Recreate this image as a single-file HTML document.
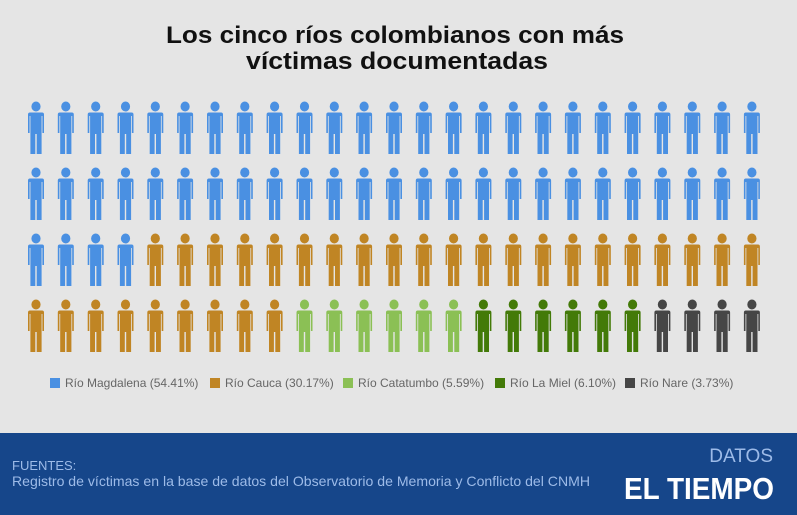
<!DOCTYPE html>
<html><head><meta charset="utf-8"><style>
body{margin:0;width:797px;height:515px;background:#e5e5e5;overflow:hidden;font-family:"Liberation Sans",sans-serif}
</style></head><body>
<svg width="797" height="515" xmlns="http://www.w3.org/2000/svg" style="position:absolute;left:0;top:0">
<defs>
<g id="p">
<ellipse cx="0" cy="5.5" rx="4.6" ry="5"/>
<path d="M-8,13.5 Q-8,11.5 -6,11.5 L6,11.5 Q8,11.5 8,13.5 L8,32 L6.4,32 L6.4,15 L5.6,15 L5.6,53 L0.7,53 L0.7,33 L-0.7,33 L-0.7,53 L-5.6,53 L-5.6,15 L-6.4,15 L-6.4,32 L-8,32 Z"/>
</g>
</defs>
<text x="395" y="43" text-anchor="middle" font-size="24" font-weight="bold" fill="#111" textLength="458" lengthAdjust="spacingAndGlyphs">Los cinco ríos colombianos con más</text>
<text x="397" y="69" text-anchor="middle" font-size="24" font-weight="bold" fill="#111" textLength="302" lengthAdjust="spacingAndGlyphs">víctimas documentadas</text>
<g id="icons"></g>
<g font-size="12" fill="#666">
<rect x="50" y="378" width="10" height="10" fill="#4a90e2"/><text x="65" y="387">Río Magdalena (54.41%)</text>
<rect x="210" y="378" width="10" height="10" fill="#c08524"/><text x="225" y="387">Río Cauca (30.17%)</text>
<rect x="343" y="378" width="10" height="10" fill="#8bc055"/><text x="358" y="387">Río Catatumbo (5.59%)</text>
<rect x="495" y="378" width="10" height="10" fill="#437a08"/><text x="510" y="387">Río La Miel (6.10%)</text>
<rect x="625" y="378" width="10" height="10" fill="#464646"/><text x="640" y="387">Río Nare (3.73%)</text>
</g>
<rect x="0" y="433" width="797" height="82" fill="#16468a"/>
<text x="12" y="470" font-size="13" fill="#9dbbe8">FUENTES:</text>
<text x="12" y="486" font-size="14" fill="#9dbbe8" textLength="578" lengthAdjust="spacingAndGlyphs">Registro de víctimas en la base de datos del Observatorio de Memoria y Conflicto del CNMH</text>
<text x="773" y="462" text-anchor="end" font-size="19" fill="#9dbbe8">DATOS</text>
<text x="774" y="499" text-anchor="end" font-size="31" font-weight="bold" fill="#fff" textLength="150" lengthAdjust="spacingAndGlyphs">EL TIEMPO</text>
</svg>
<script>
var rows=[["#4a90e2",25],["#4a90e2",25],["#4a90e2",4,"#c08524",21],["#c08524",9,"#8bc055",6,"#437a08",6,"#464646",4]];
var g=document.getElementById('icons'),h='';
var tops=[101,167,233,299];
rows.forEach(function(r,ri){var c=0;for(var k=0;k<r.length;k+=2){for(var j=0;j<r[k+1];j++){var x=36+c*29.83;h+='<use href="#p" x="'+x.toFixed(1)+'" y="'+tops[ri]+'" fill="'+r[k]+'"/>';c++;}}});
g.innerHTML=h;
</script>
</body></html>
